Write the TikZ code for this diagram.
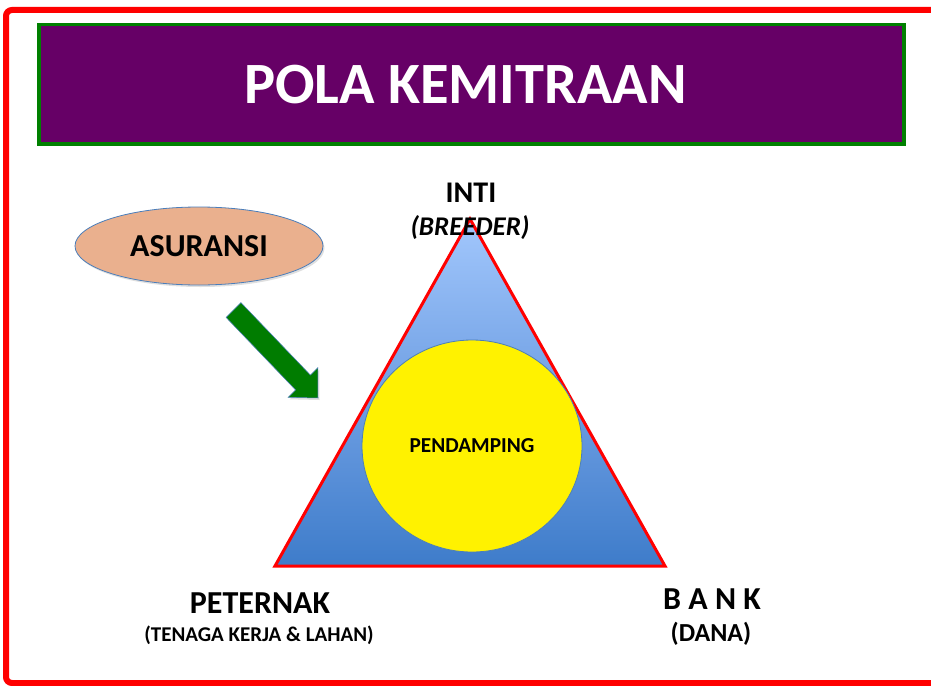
\documentclass[tikz,border=0pt]{standalone}
\usepackage{fontspec}
\setmainfont{Carlito}
\usetikzlibrary{shapes.geometric,shadows}
\definecolor{purp}{RGB}{102,0,102}
\definecolor{grn}{RGB}{0,128,0}
\definecolor{peach}{RGB}{234,176,142}
\definecolor{edgeblue}{RGB}{74,126,187}
\definecolor{tritop}{RGB}{162,199,252}
\definecolor{trimid}{RGB}{112,160,228}
\definecolor{tribot}{RGB}{62,124,202}
\definecolor{arrgreen}{RGB}{0,124,0}
\tikzset{
  lbl/.style={font=\bfseries\fontsize{#1}{#1}\selectfont, inner sep=0pt, text=black},
  softshadow/.style={drop shadow={opacity=0.25, shadow xshift=1.5pt, shadow yshift=-2pt}},
}
\begin{document}
\begin{tikzpicture}[x=1pt,y=-1pt]
\useasboundingbox (0,0) rectangle (931,685);
\clip (0,0) rectangle (931,685);
\fill[white] (0,0) rectangle (931,685);
% outer red frame
\draw[red, line width=6pt, rounded corners=6pt] (6,10) rectangle (960,683);
% title
\node (title) [fill=purp, draw=grn, line width=3.5pt, minimum width=865pt, minimum height=119.5pt,
  inner sep=0pt, softshadow] at (471.5,84.2) {};
\node (titletext) [inner sep=0pt, text=white, font=\bfseries\fontsize{58.5}{60}\selectfont] at (465.5,85) {POLA KEMITRAAN};
% asuransi ellipse
\node (asur) [ellipse, draw=edgeblue, line width=0.8pt, fill=peach, minimum width=248pt, minimum height=78pt,
  inner sep=0pt, lbl=32, softshadow] at (199,246) {ASURANSI};
% green block arrow
\draw[draw=edgeblue, line width=0.5pt, fill=arrgreen, softshadow]
  (240.9,302.6) -- (310.4,375.1) -- (317.8,367.7) -- (318,398) -- (288.2,397.3) -- (295.6,389.9) -- (226.1,317.4) -- cycle;
% triangle
\coordinate (apex) at (470,219);
\coordinate (bl) at (275,566);
\coordinate (br) at (665,566);
\shade[top color=tritop, bottom color=tribot, middle color=trimid] (apex) -- (br) -- (bl) -- cycle;
\draw[red, line width=3pt, line join=miter] (apex) -- (br) -- (bl) -- cycle;
% circle
\node (pend) [ellipse, draw=edgeblue, line width=0.8pt, fill=yellow, minimum width=220pt, minimum height=212pt,
  inner sep=0pt, lbl=21.3] at (472,446) {PENDAMPING};
% labels
\node (inti) [lbl=30] at (471,193) {INTI};
\node (breeder) [inner sep=0pt, font=\bfseries\itshape\fontsize{27}{27}\selectfont] at (470,228) {(BREEDER)};
\node (peternak) [lbl=32] at (260,603) {PETERNAK};
\node (tenaga) [lbl=21] at (259,635) {(TENAGA KERJA \& LAHAN)};
\node (bank) [lbl=32] at (712,599) {B A N K};
\node (dana) [lbl=26] at (711,634) {(DANA)};
\end{tikzpicture}
\end{document}
